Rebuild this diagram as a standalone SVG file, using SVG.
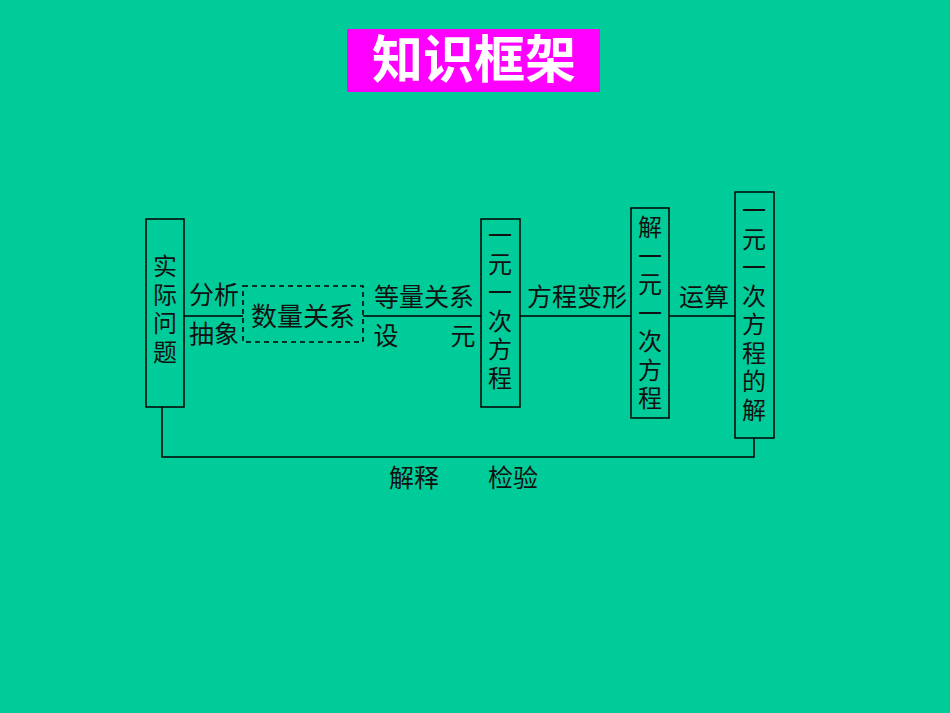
<svg xmlns="http://www.w3.org/2000/svg" width="950" height="713" viewBox="0 0 950 713">
<style>
.t{font-family:"Noto Sans CJK SC","Noto Sans",sans-serif;fill:#111;font-size:25px;text-anchor:middle}
.vt{font-family:"Noto Sans CJK SC","Noto Sans",sans-serif;fill:#111;font-size:24px;writing-mode:vertical-rl;letter-spacing:4.5px;text-anchor:start}
.box{fill:none;stroke:#000;stroke-width:1.5}
.ln{fill:none;stroke:#000;stroke-width:1.5}
</style>
<rect width="950" height="713" fill="#00CC99"/>
<g id="title">
<rect x="347" y="29" width="253" height="63" fill="#FF00FF"/>
<text x="474" y="78" style="font-family:'Noto Sans CJK SC',sans-serif;font-weight:bold;font-size:51px;fill:#fff;text-anchor:middle">知识框架</text>
</g>
<g id="connectors">
<line class="ln" x1="184" y1="316" x2="243" y2="316"/>
<line class="ln" x1="363" y1="316" x2="481" y2="316"/>
<line class="ln" x1="520" y1="316" x2="631" y2="316"/>
<line class="ln" x1="669" y1="316" x2="735" y2="316"/>
<polyline class="ln" points="162,407 162,457 754,457 754,438"/>
<text class="t" x="214" y="304">分析</text>
<text class="t" x="214" y="343">抽象</text>
<text class="t" x="424" y="306">等量关系</text>
<text class="t" x="386" y="345">设</text>
<text class="t" x="463" y="345">元</text>
<text class="t" x="577" y="306">方程变形</text>
<text class="t" x="704" y="306">运算</text>
<text class="t" x="414" y="487">解释</text>
<text class="t" x="513" y="487">检验</text>
</g>
<g id="n1">
<rect class="box" x="146" y="219" width="38" height="188"/>
<text class="vt" x="165" y="254">实际问题</text>
</g>
<g id="n2">
<rect class="box" x="243" y="286" width="120" height="56" stroke-dasharray="5,4"/>
<text class="t" x="303" y="326" style="font-size:26px">数量关系</text>
</g>
<g id="n3">
<rect class="box" x="481" y="219" width="39" height="188"/>
<text class="vt" x="500" y="223">一元一次方程</text>
</g>
<g id="n4">
<rect class="box" x="631" y="208" width="38" height="210"/>
<text class="vt" x="650" y="215">解一元一次方程</text>
</g>
<g id="n5">
<rect class="box" x="735" y="192" width="39" height="246"/>
<text class="vt" x="754" y="198">一元一次方程的解</text>
</g>
</svg>
